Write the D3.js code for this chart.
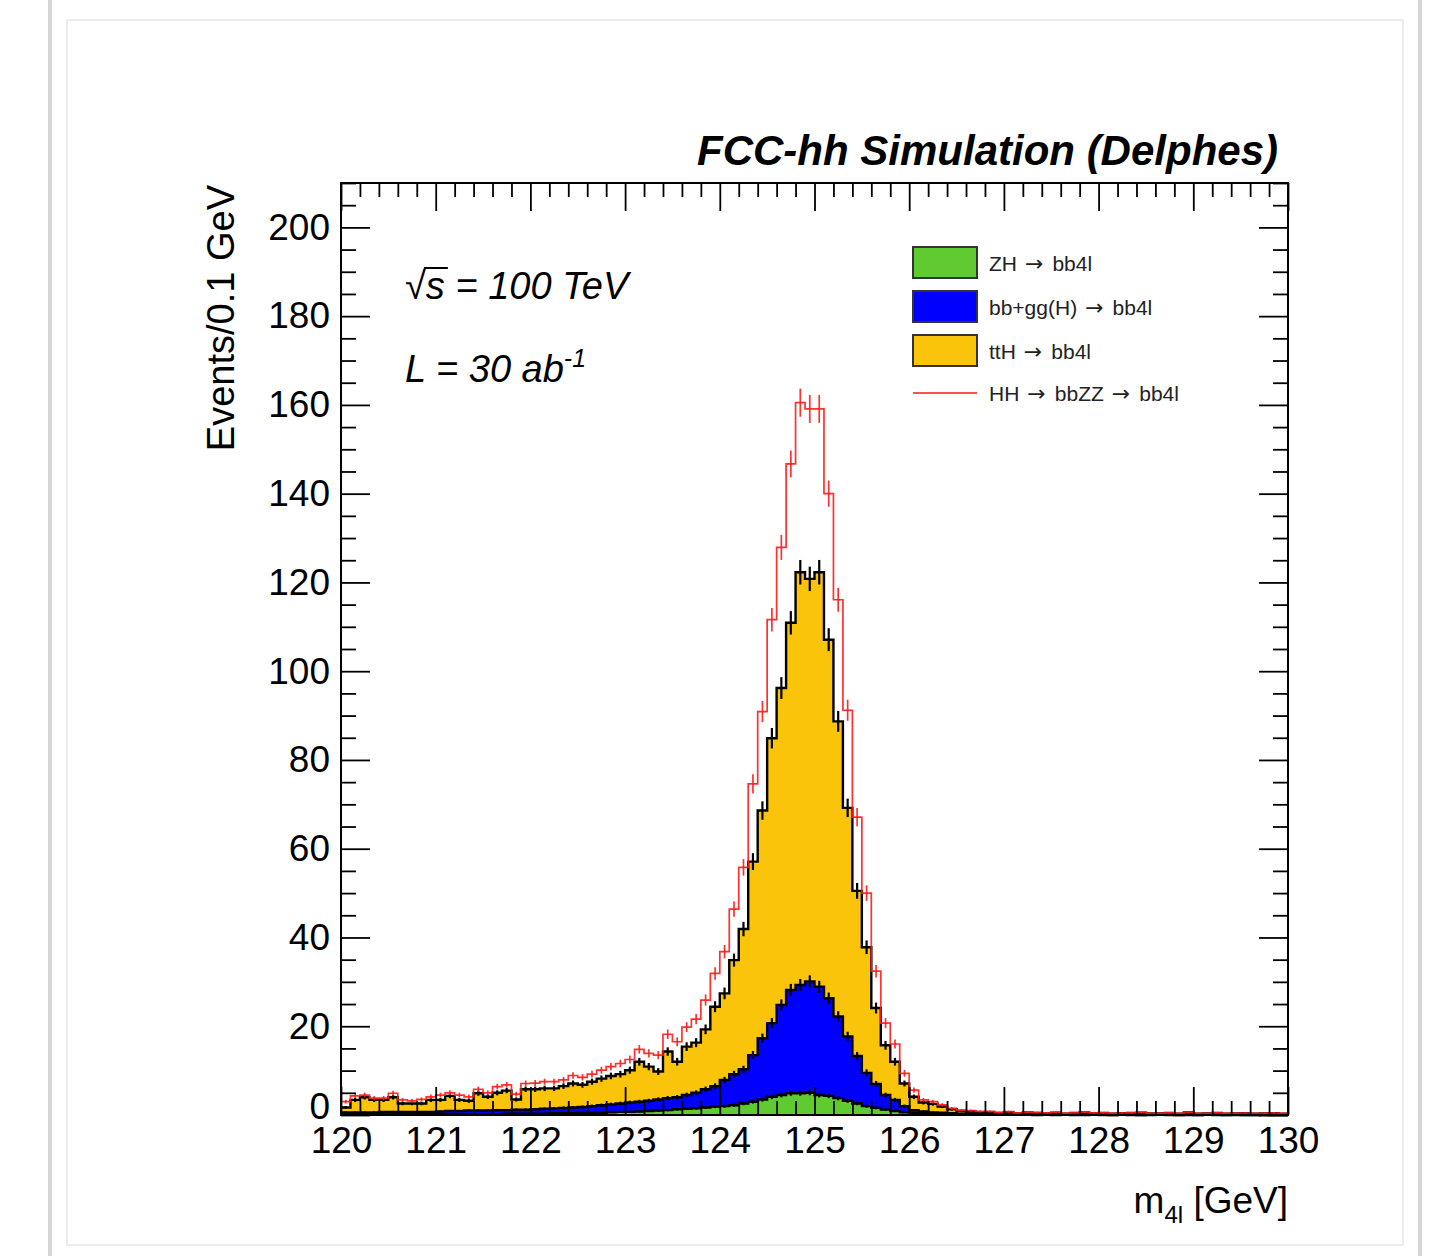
<!DOCTYPE html>
<html>
<head>
<meta charset="utf-8">
<script src="https://cdn.jsdelivr.net/npm/d3@7"></script>
<style>
  body { margin: 0; background: #fff; }
  svg text { font-family: "Liberation Sans", Arial, Helvetica, sans-serif; }
</style>
</head>
<body>
<script>
// m4l histogram, 100 bins of 0.1 GeV between 120 and 130 GeV
var binLow = d3.range(100).map(function(i){ return +(120 + i * 0.1).toFixed(1); });

var zh = [
  0.1,0.1,0.1,0.1,0.1,0.1,0.1,0.1,0.1,0.2,
  0.2,0.2,0.2,0.2,0.2,0.2,0.2,0.3,0.3,0.3,
  0.3,0.3,0.4,0.4,0.4,0.5,0.5,0.5,0.6,0.7,
  0.7,0.8,0.9,1.0,1.1,1.3,1.4,1.5,1.7,1.9,
  2.0,2.2,2.6,3.0,3.5,4.1,4.5,4.9,4.9,5.0,
  4.5,4.3,3.8,3.2,2.6,2.0,1.6,1.2,0.9,0.6,
  0.4,0.3,0.2,0.2,0.1,0.1,0.1,0.1,0.1,0.05,
  0.05,0.05,0.05,0,0.05,0,0.05,0,0,0.05,
  0,0,0.05,0,0,0,0.05,0,0,0,
  0,0.05,0,0,0,0,0,0,0,0
];
var bbgg = [
  0.5,0.5,0.5,0.5,0.6,0.6,0.6,0.6,0.6,0.5,
  0.6,0.7,0.7,0.8,0.8,0.8,0.9,0.8,0.9,0.9,
  1.0,1.1,1.1,1.2,1.3,1.3,1.5,1.7,1.8,1.9,
  2.1,2.2,2.3,2.5,2.7,2.7,3.1,3.5,4.1,4.6,
  5.9,7.0,7.7,10.5,13.8,16.6,20.3,23.3,24.4,25.1,
  24.4,22.0,18.4,14.5,10.7,7.5,5.4,3.3,2.5,1.4,
  0.7,0.5,0.4,0.3,0.3,0.2,0.2,0.1,0.1,0.1,
  0.1,0.05,0.1,0.05,0.05,0.1,0.05,0.05,0.05,0.05,
  0.05,0,0.05,0.05,0,0.05,0,0.05,0,0.05,
  0,0,0.05,0,0.05,0,0,0.05,0,0
];
var tth = [
  1.1,2.8,3.4,2.8,2.7,3.3,1.9,1.9,1.9,2.7,
  2.6,3.4,2.5,2.2,3.9,3.1,3.9,4.4,2.3,4.6,
  4.5,4.6,4.5,4.9,5.4,5.0,5.5,6.0,6.4,6.6,
  7.3,9.0,7.7,6.3,10.5,8.0,10.9,11.3,13.5,17.9,
  19.5,25.7,31.6,43.6,51.3,64.2,71.4,82.7,93.0,90.7,
  93.4,80.8,66.5,51.5,37.2,28.3,17.1,11.2,8.6,5.1,
  3.0,2.0,1.9,1.4,0.9,0.6,0.5,0.4,0.4,0.3,
  0.5,0.3,0.4,0.4,0.3,0.4,0.2,0.4,0.5,0.3,
  0.4,0.3,0.3,0.4,0.5,0.3,0.3,0.4,0.3,0.5,
  0.3,0.3,0.4,0.3,0.3,0.4,0.3,0.3,0.4,0.3
];
var hh = [
  1.3,0.9,0.5,0.4,0.4,0.9,0.8,0.6,0.9,0.7,
  1.1,0.7,1.1,0.9,0.9,0.9,1.4,1.3,1.2,1.3,
  1.4,1.5,1.5,1.4,1.8,1.7,1.7,1.9,2.1,2.4,
  2.4,2.8,3.0,3.7,3.9,4.5,4.4,5.3,6.6,7.5,
  9.4,11.5,13.9,17.5,22.3,26.7,31.7,35.8,38.2,38.3,
  36.8,32.9,27.4,22.0,16.6,12.2,8.3,5.0,4.0,2.3,
  1.5,0.6,0.5,0.4,0.2,0.2,0.2,0.2,0.2,0.1,
  0.1,0.1,0.1,0.1,0.1,0.1,0.1,0.05,0.1,0.1,
  0.05,0.1,0.05,0.05,0.1,0.05,0.05,0.05,0.05,0.05,
  0.05,0.05,0.05,0.05,0.05,0.05,0.05,0.05,0.05,0.05
];

var xTicks = [120,121,122,123,124,125,126,127,128,129,130];
var yTicks = [0,20,40,60,80,100,120,140,160,180,200];
var seriesKeys = ["zh", "bbgg", "tth", "hh"];
// legend labels, split around the arrows
var legendLabels = [["ZH", "bb4l"], ["bb+gg(H)", "bb4l"], ["ttH", "bb4l"], ["HH", "bbZZ", "bb4l"]];

var colors = { zh: "#5fcb30", bbgg: "#0000ff", tth: "#fac40a", hh: "#ff1a1a" };
var errScale = 0.25;

var W = 1435, H = 1256;
var svg = d3.select("body").append("svg").attr("width", W).attr("height", H);

// page frame around the picture
svg.append("rect").attr("x", 0).attr("y", 0).attr("width", W).attr("height", H).attr("fill", "#fff");
svg.append("line").attr("x1", 50).attr("x2", 50).attr("y1", 0).attr("y2", H)
  .attr("stroke", "#d6d6d6").attr("stroke-width", 4);
svg.append("line").attr("x1", 1420).attr("x2", 1420).attr("y1", 0).attr("y2", H)
  .attr("stroke", "#d6d6d6").attr("stroke-width", 4);
svg.append("rect").attr("x", 67).attr("y", 20).attr("width", 1336).attr("height", 1225)
  .attr("fill", "none").attr("stroke", "#e6e6e6").attr("stroke-width", 1.5);

var x = d3.scaleLinear().domain([120, 130]).range([341, 1288]);
var y = d3.scaleLinear().domain([0, 210]).range([1115, 183]);

var rows = binLow.map(function(b, i){
  return { low: b, zh: zh[i], bbgg: bbgg[i], tth: tth[i], hh: hh[i] };
});
var stacked = d3.stack().keys(seriesKeys)(rows);

function stepPoints(layer) {
  var pts = layer.map(function(d, i){ return [binLow[i], d[1]]; });
  pts.push([130, layer[layer.length - 1][1]]);
  return pts;
}
var stepLine = d3.line().x(function(d){ return x(d[0]); }).y(function(d){ return y(d[1]); })
  .curve(d3.curveStepAfter);
var stepArea = d3.area().x(function(d){ return x(d[0]); }).y0(y(0)).y1(function(d){ return y(d[1]); })
  .curve(d3.curveStepAfter);

var plot = svg.append("g");

// filled stack, drawn from the top layer down like THStack
[2, 1, 0].forEach(function(li){
  var layer = stacked[li];
  plot.append("path").datum(stepPoints(layer))
    .attr("d", stepArea).attr("fill", colors[layer.key]).attr("stroke", "none");
});
[2, 1, 0].forEach(function(li){
  var layer = stacked[li];
  plot.append("path").datum(stepPoints(layer))
    .attr("d", stepLine).attr("fill", "none").attr("stroke", "#000").attr("stroke-width", 2.4);
  plot.append("g").selectAll("line").data(layer).enter().append("line")
    .attr("x1", function(d, i){ return x(binLow[i] + 0.05); })
    .attr("x2", function(d, i){ return x(binLow[i] + 0.05); })
    .attr("y1", function(d){ return y(d[1] - errScale * Math.sqrt(d[1])); })
    .attr("y2", function(d){ return y(d[1] + errScale * Math.sqrt(d[1])); })
    .attr("stroke", "#000").attr("stroke-width", 2.2);
});

// HH on top, line only
var hhLayer = stacked[3];
plot.append("path").datum(stepPoints(hhLayer))
  .attr("d", stepLine).attr("fill", "none").attr("stroke", colors.hh)
  .attr("stroke-width", 1.7).attr("stroke-opacity", 0.9);
plot.append("g").selectAll("line").data(hhLayer).enter().append("line")
  .attr("x1", function(d, i){ return x(binLow[i] + 0.05); })
  .attr("x2", function(d, i){ return x(binLow[i] + 0.05); })
  .attr("y1", function(d){ return y(d[1] - errScale * Math.sqrt(d[1])); })
  .attr("y2", function(d){ return y(d[1] + errScale * Math.sqrt(d[1])); })
  .attr("stroke", colors.hh).attr("stroke-width", 1.7).attr("stroke-opacity", 0.9);

// axes (ticks inward on all four sides)
var xMinor = d3.range(0, 51).filter(function(i){ return i % 5 !== 0; }).map(function(i){ return 120 + i * 0.2; });
var yMinor = d3.range(0, 211, 5).filter(function(v){ return v % 20 !== 0; });

function noDomain(g) { g.select(".domain").remove(); g.selectAll("line").attr("stroke", "#000").attr("stroke-width", 1.8); }

svg.append("g").attr("transform", "translate(0,1115)")
  .call(d3.axisTop(x).tickValues(xTicks).tickSize(28).tickFormat("")).call(noDomain);
svg.append("g").attr("transform", "translate(0,1115)")
  .call(d3.axisTop(x).tickValues(xMinor).tickSize(14).tickFormat("")).call(noDomain);
svg.append("g").attr("transform", "translate(0,183)")
  .call(d3.axisBottom(x).tickValues(xTicks).tickSize(28).tickFormat("")).call(noDomain);
svg.append("g").attr("transform", "translate(0,183)")
  .call(d3.axisBottom(x).tickValues(xMinor).tickSize(14).tickFormat("")).call(noDomain);

svg.append("g").attr("transform", "translate(341,0)")
  .call(d3.axisRight(y).tickValues(yTicks).tickSize(29).tickFormat("")).call(noDomain);
svg.append("g").attr("transform", "translate(341,0)")
  .call(d3.axisRight(y).tickValues(yMinor).tickSize(15).tickFormat("")).call(noDomain);
svg.append("g").attr("transform", "translate(1288,0)")
  .call(d3.axisLeft(y).tickValues(yTicks).tickSize(29).tickFormat("")).call(noDomain);
svg.append("g").attr("transform", "translate(1288,0)")
  .call(d3.axisLeft(y).tickValues(yMinor).tickSize(15).tickFormat("")).call(noDomain);

// tick labels
var xLab = svg.append("g").attr("transform", "translate(0,1115)")
  .call(d3.axisBottom(x).tickValues(xTicks).tickSize(0).tickPadding(12).tickFormat(d3.format("d")));
xLab.select(".domain").remove();
xLab.selectAll("text").attr("font-size", 37).attr("fill", "#000")
  .style("font-family", "'Liberation Sans', Arial, sans-serif");

var yLab = svg.append("g").attr("transform", "translate(341,0)")
  .call(d3.axisLeft(y).tickValues(yTicks).tickSize(0).tickPadding(11).tickFormat(d3.format("d")));
yLab.select(".domain").remove();
yLab.selectAll("text").attr("font-size", 37).attr("fill", "#000")
  .style("font-family", "'Liberation Sans', Arial, sans-serif");
// the "0" sits right above "120": lift it a touch so the two do not collide
yLab.selectAll(".tick").filter(function(d){ return d === 0; }).select("text").attr("dy", "0.1em");

// frame
svg.append("rect").attr("x", 341).attr("y", 183).attr("width", 947).attr("height", 932)
  .attr("fill", "none").attr("stroke", "#000").attr("stroke-width", 2);

// titles
svg.append("text").attr("x", 1278).attr("y", 165).attr("text-anchor", "end")
  .attr("font-size", 42).attr("font-weight", "bold").attr("font-style", "italic")
  .text("FCC-hh Simulation (Delphes)");

svg.append("text").attr("transform", "translate(234,185) rotate(-90)")
  .attr("text-anchor", "end").attr("font-size", 38).text("Events/0.1 GeV");

var xt = svg.append("text").attr("x", 1288).attr("y", 1213).attr("text-anchor", "end").attr("font-size", 37);
xt.append("tspan").text("m");
xt.append("tspan").attr("font-size", 24).attr("dy", 10).text("4l");
xt.append("tspan").attr("dy", -10).text(" [GeV]");

// energy and luminosity
var sq = svg.append("text").attr("x", 405).attr("y", 299).attr("font-size", 38);
sq.append("tspan").text("\u221A");
sq.append("tspan").attr("font-style", "italic").text("s = 100 TeV");
var sqNode = sq.node();
var rootW = sqNode.getSubStringLength(0, 1);
var sW = sqNode.getSubStringLength(1, 1);
svg.append("line").attr("x1", 405 + rootW - 2).attr("x2", 405 + rootW + sW + 3)
  .attr("y1", 299 - 31).attr("y2", 299 - 31).attr("stroke", "#000").attr("stroke-width", 2);

var lum = svg.append("text").attr("x", 405).attr("y", 382).attr("font-size", 38).attr("font-style", "italic");
lum.append("tspan").text("L = 30 ab");
lum.append("tspan").attr("font-size", 25).attr("dy", -15).text("-1");

// legend
var legendY = [262.5, 306.5, 350.5, 393];
var leg = svg.append("g");
seriesKeys.forEach(function(k, i){
  if (k === "hh") {
    leg.append("line").attr("x1", 913).attr("x2", 977).attr("y1", legendY[i]).attr("y2", legendY[i])
      .attr("stroke", colors.hh).attr("stroke-width", 2).attr("stroke-opacity", 0.75);
  } else {
    leg.append("rect").attr("x", 913).attr("y", legendY[i] - 15.5).attr("width", 64).attr("height", 31)
      .attr("fill", colors[k]).attr("stroke", "#333").attr("stroke-width", 2);
  }
  var t = leg.append("text").attr("x", 989).attr("y", legendY[i] + 8).attr("font-size", 21).attr("fill", "#222");
  legendLabels[i].forEach(function(part, j){
    if (j > 0) {
      t.append("tspan").attr("dx", 8).style("font-family", "'DejaVu Sans', sans-serif")
        .attr("font-size", 22).text("\u2192");
      t.append("tspan").attr("dx", 9).text(part);
    } else {
      t.append("tspan").text(part);
    }
  });
});
</script>
</body>
</html>
